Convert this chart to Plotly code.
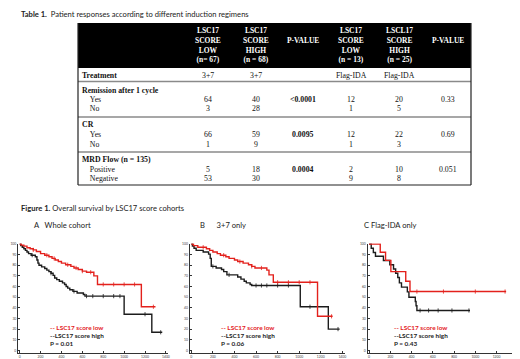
import plotly.graph_objects as go

W, H = 520, 359

# ---------------- Table data ----------------
table_title = "Table 1."
table_caption = "Patient responses according to different induction regimens"
col_headers = ["LSC17<br>SCORE<br>LOW<br>(n= 67)", "LSC17<br>SCORE<br>HIGH<br>(n = 68)", "P-VALUE",
               "LSC17<br>SCORE<br>LOW<br>(n = 13)", "LSCL17<br>SCORE<br>HIGH<br>(n = 25)", "P-VALUE"]
treatment = ["3+7", "3+7", "", "Flag-IDA", "Flag-IDA", ""]
remission_yes = ["64", "40", "<0.0001", "12", "20", "0.33"]
remission_no = ["3", "28", "", "1", "5", ""]
cr_yes = ["66", "59", "0.0095", "12", "22", "0.69"]
cr_no = ["1", "9", "", "1", "3", ""]
mrd_pos = ["5", "18", "0.0004", "2", "10", "0.051"]
mrd_neg = ["53", "30", "", "9", "8", ""]
group_labels = ["Remission after 1 cycle", "CR", "MRD Flow (n = 135)"]
sub_labels = [["Yes", "No"], ["Yes", "No"], ["Positive", "Negative"]]

# ---------------- Figure data (Kaplan-Meier) ----------------
fig_title = "Figure 1."
fig_caption = "Overall survival by LSC17 score cohorts"
panel_titles = ["A&nbsp;&nbsp;&nbsp;Whole cohort", "B&nbsp;&nbsp;&nbsp;&nbsp;&nbsp;&nbsp;3+7 only", "C Flag-IDA only"]
p_values = ["P = 0.01", "P = 0.06", "P = 0.43"]
x_title = "Time (days)"
x_ticks = [0, 200, 400, 600, 800, 1000, 1200, 1400]
y_ticks = [0, 10, 20, 30, 40, 50, 60, 70, 80, 90, 100]

a_low_t = [0, 15, 40, 70, 100, 130, 160, 200, 240, 280, 310, 340, 370, 400, 440, 490, 520, 560, 600, 640, 710, 745, 1165, 1300]
a_low_s = [100, 99, 98, 96.5, 95.5, 94.5, 93, 91, 89.5, 88, 86.5, 85, 83.5, 82, 80.5, 79, 77.5, 76, 74.5, 73.5, 70, 62, 41, 41]
a_high_t = [0, 10, 25, 40, 55, 70, 85, 110, 150, 165, 175, 185, 210, 240, 260, 280, 300, 320, 335, 355, 380, 410, 430, 445, 460, 480, 510, 550, 610, 625, 1000, 1265, 1365]
a_high_s = [100, 98.5, 97, 95.5, 94, 92.5, 91, 89.5, 88, 85, 82, 80, 78.5, 77, 75.5, 74, 72.5, 70.5, 68, 66.5, 65, 63.5, 62, 60, 58.5, 57, 55.5, 54, 52.5, 51, 34, 17, 17]
b_low_t = [0, 20, 60, 140, 170, 200, 240, 270, 320, 350, 400, 430, 480, 530, 560, 590, 700, 720, 760, 1170, 1310]
b_low_s = [100, 98.5, 97, 95.5, 94, 92.5, 91, 89.5, 88, 86.5, 85, 83.5, 82, 80.5, 79, 77.5, 75.5, 71, 64, 32, 32]
b_high_t = [0, 10, 25, 45, 110, 160, 175, 185, 230, 280, 300, 330, 430, 460, 490, 510, 545, 560, 1010, 1270, 1375]
b_high_s = [100, 98, 96, 94, 92.5, 90.5, 86.5, 79, 77.5, 76, 74, 71, 69, 67, 65, 63.5, 62, 61, 41, 20, 20]
c_low_t = [0, 105, 155, 205, 345, 385, 1290]
c_low_s = [100, 92.3, 84.6, 74, 65, 55.3, 55.3]
c_high_t = [0, 20, 40, 60, 135, 195, 230, 250, 270, 285, 305, 360, 375, 435, 442, 450, 950]
c_high_s = [100, 96, 92, 88.5, 84.5, 80.5, 76.5, 72.5, 68.5, 63.5, 59.5, 55, 50, 46, 42, 37.5, 37.5]

a_low_cens = [130, 260, 330, 460, 540, 600, 680, 800, 900, 1000, 1100, 1280]
a_high_cens = [120, 300, 520, 640, 700, 800, 900, 960, 1200, 1350]
b_low_cens = [110, 300, 450, 560, 650, 800, 900, 1000, 1100, 1300]
b_high_cens = [200, 350, 600, 650, 700, 800, 900, 1100, 1360]
c_low_cens = [450, 700, 1000, 1280]
c_high_cens = [480, 560, 650, 780, 940]

RED = "#e3211c"
BLACK = "#1c1c1c"
SERIF = "Liberation Serif"
SANS = "Lato"


def px(x):
    return x / W


def py(y):
    return 1 - y / H


def surv_at(ts, ss, t):
    v = ss[0]
    for ti, si in zip(ts, ss):
        if ti <= t:
            v = si
    return v


def note(x, y, text, anchor="left", size=7.6, family=SANS, color="#222"):
    return dict(x=px(x), y=py(y), xref="paper", yref="paper", text=text, xanchor=anchor, yanchor="middle",
                showarrow=False, borderpad=0, font=dict(family=family, size=size, color=color))


fig = go.Figure()
shapes = []
ann = []

# ---------------- Table ----------------
T_L, T_R, T_TOP, T_HB, T_BOT = 70, 463, 15, 60, 177
col_x = [200, 248, 295, 343, 391, 440]

ann.append(note(12, 6.5, f"<b>{table_title}</b>&nbsp;&nbsp;{table_caption}"))

shapes.append(dict(type="rect", xref="paper", yref="paper", x0=px(T_L), x1=px(T_R), y0=py(T_HB), y1=py(T_TOP),
                   fillcolor="black", line=dict(width=0), layer="below"))
for cx, hd in zip(col_x, col_headers):
    ymid = 33 if hd == "P-VALUE" else 37.5
    ann.append(note(cx, ymid, f"<b>{hd}</b>", anchor="center", size=7.5, family=SERIF, color="white"))

rows = []
rows.append(("Treatment", treatment, 67.5, True))
group_data = [(remission_yes, remission_no), (cr_yes, cr_no), (mrd_pos, mrd_neg)]
group_y = [(82, 91.5, 101), (116.5, 126.5, 136), (151, 161, 170.5)]
for gl, sl, gd, gy in zip(group_labels, sub_labels, group_data, group_y):
    rows.append((gl, None, gy[0], True))
    rows.append(("&nbsp;&nbsp;&nbsp;&nbsp;" + sl[0], gd[0], gy[1], False))
    rows.append(("&nbsp;&nbsp;&nbsp;&nbsp;" + sl[1], gd[1], gy[2], False))

for label, vals, yy, bold in rows:
    t = f"<b>{label}</b>" if bold else label
    ann.append(note(73, yy, t, size=7.8, family=SERIF, color="#111"))
    if vals:
        for i, (cx, v) in enumerate(zip(col_x, vals)):
            if not v:
                continue
            tv = f"<b>{v}</b>" if i == 2 else v
            ann.append(note(cx, yy, tv, anchor="center", size=7.8, family=SERIF, color="#111"))

for sy in [73.5, 109, 144]:
    shapes.append(dict(type="line", xref="paper", yref="paper", x0=px(T_L), x1=px(T_R), y0=py(sy), y1=py(sy),
                       line=dict(color="#8a8a8a", width=1.6)))
for x0, y0, x1, y1 in [(T_L, T_TOP, T_L, T_BOT), (T_R, T_TOP, T_R, T_BOT), (T_L, T_BOT, T_R, T_BOT)]:
    shapes.append(dict(type="line", xref="paper", yref="paper", x0=px(x0), x1=px(x1), y0=py(y0), y1=py(y1),
                       line=dict(color="#222", width=1.2)))

# ---------------- Figure ----------------
ann.append(note(12, 200, f"<b>{fig_title}</b> {fig_caption}"))
title_x = [25, 191, 355]
for tx, tt in zip(title_x, panel_titles):
    ann.append(note(tx, 217, tt))

panels = [
    ((a_low_t, a_low_s, a_low_cens), (a_high_t, a_high_s, a_high_cens), (10, 160), (-16, 1420), 40.5),
    ((b_low_t, b_low_s, b_low_cens), (b_high_t, b_high_s, b_high_cens), (181.7, 336.5), (-15, 1420), 211.5),
    ((c_low_t, c_low_s, c_low_cens), (c_high_t, c_high_s, c_high_cens), (359.5, 513), (-15, 1430), 385),
]
Y_TOP, Y_BOT = 235.5, 345.0

for k, (low, high, (dx0, dx1), xr, legx) in enumerate(panels):
    n = "" if k == 0 else str(k + 1)
    xa, ya = "x" + n, "y" + n
    for (ts, ss, cens), col in [(high, BLACK), (low, RED)]:
        fig.add_trace(go.Scatter(x=ts, y=ss, mode="lines", line=dict(color=col, width=1.4, shape="hv"),
                                 xaxis=xa, yaxis=ya, showlegend=False, hoverinfo="skip"))
        fig.add_trace(go.Scatter(x=cens, y=[surv_at(ts, ss, c) for c in cens], mode="markers",
                                 marker=dict(symbol="line-ns", size=3, line=dict(color=col, width=0.8)),
                                 xaxis=xa, yaxis=ya, showlegend=False, hoverinfo="skip"))
    fig.layout["xaxis" + n] = dict(domain=[px(dx0), px(dx1)], range=list(xr), anchor=ya, automargin=False,
                                   tickvals=x_ticks, ticks="inside", ticklen=2, tickcolor="#333",
                                   tickfont=dict(size=3.4, color="#444", family=SANS),
                                   showline=True, linecolor="#333", linewidth=1, showgrid=False, zeroline=False)
    fig.layout["yaxis" + n] = dict(domain=[py(Y_BOT), py(Y_TOP)], range=[-2.5, 100.5], anchor=xa, automargin=False,
                                   tickvals=y_ticks, ticks="inside", ticklen=2, tickcolor="#333",
                                   tickfont=dict(size=3.4, color="#444", family=SANS),
                                   showline=True, linecolor="#333", linewidth=1, showgrid=False, zeroline=False)
    ann.append(note((dx0 + dx1) / 2, 353.5, x_title, anchor="center", size=3.4, color="#444"))
    for txt, yy, col in [("-- LSC17 score low", 319, RED), ("--LSC17 score high", 327.5, BLACK),
                         (p_values[k], 335.5, BLACK)]:
        ann.append(note(legx, yy, f"<b>{txt}</b>", size=6.4, color=col))

fig.update_layout(width=W, height=H, margin=dict(l=0, r=0, t=0, b=0), paper_bgcolor="white",
                  plot_bgcolor="white", shapes=shapes, annotations=ann, showlegend=False)

fig.write_html("out.html")
